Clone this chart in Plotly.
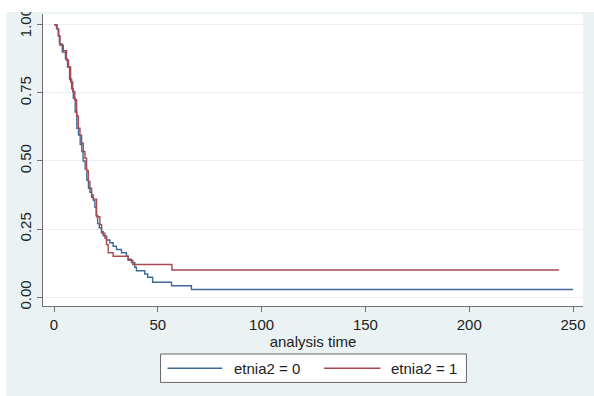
import plotly.graph_objects as go

# Kaplan-Meier survival estimates by group (step functions)
series_names = ["etnia2 = 0", "etnia2 = 1"]

time_g0 = [0, 1.2, 2.0, 2.6, 4.0, 5.5, 6.5, 7.5, 8.5, 9.3, 10.2, 11.0, 11.8, 12.6,
           13.4, 14.0, 15.0, 15.8, 16.6, 17.3, 18.1, 19.0, 19.7, 20.3, 21.0, 21.8,
           22.9, 23.7, 25.3, 26.9, 28.5, 30.1, 32.5, 34.9, 35.7, 37.3, 38.9, 39.7,
           43.7, 45.1, 47.5, 56.6, 66.2, 250]
surv_g0 = [1.0, 0.985, 0.96, 0.93, 0.90, 0.875, 0.845, 0.80, 0.765, 0.73, 0.68, 0.62,
           0.595, 0.56, 0.535, 0.50, 0.47, 0.43, 0.40, 0.385, 0.367, 0.355, 0.33,
           0.30, 0.27, 0.255, 0.24, 0.225, 0.21, 0.20, 0.187, 0.175, 0.163, 0.15,
           0.139, 0.127, 0.11, 0.097, 0.085, 0.073, 0.055, 0.042, 0.028, 0.028]

time_g1 = [0, 1.5, 2.3, 2.9, 4.5, 6.0, 7.0, 8.0, 9.0, 10.0, 10.9, 11.7, 12.5, 13.3,
           14.1, 14.9, 15.7, 16.5, 17.3, 18.1, 18.9, 20.5, 22.1, 22.9, 24.5, 25.3,
           26.1, 28.5, 35.7, 38.0, 56.8, 243.3]
surv_g1 = [1.0, 0.985, 0.96, 0.925, 0.905, 0.87, 0.845, 0.79, 0.755, 0.725, 0.665,
           0.62, 0.595, 0.565, 0.535, 0.51, 0.465, 0.425, 0.40, 0.375, 0.36, 0.295,
           0.266, 0.235, 0.217, 0.193, 0.163, 0.15, 0.135, 0.12, 0.10, 0.10]

x_ticks = [0, 50, 100, 150, 200, 250]
y_ticks = [0.0, 0.25, 0.5, 0.75, 1.0]
y_tick_text = ["0.00", "0.25", "0.50", "0.75", "1.00"]

colors = ["#3f6a98", "#ab4852"]
bg = "#eaf2f3"
axis_col = "#707070"
font = "Liberation Sans, Arial, sans-serif"

fig = go.Figure()
for t, s, name, c in [(time_g0, surv_g0, series_names[0], colors[0]),
                      (time_g1, surv_g1, series_names[1], colors[1])]:
    fig.add_trace(go.Scatter(x=t, y=s, mode="lines", name=name,
                             line=dict(color=c, width=1.4, shape="hv"),
                             showlegend=False))

fig.update_layout(
    width=594, height=396,
    margin=dict(l=43, r=9, t=8, b=90),
    paper_bgcolor=bg, plot_bgcolor="white",
    font=dict(family=font, size=15, color="#222"),
    xaxis=dict(range=[-5.3, 254.8], tickvals=x_ticks, showgrid=False,
               zeroline=False, showline=True, linecolor=axis_col, linewidth=1,
               ticks="outside", ticklen=5, tickcolor=axis_col,
               tickfont=dict(size=15),
               title=dict(text="analysis time", font=dict(size=15), standoff=4)),
    yaxis=dict(range=[-0.0324, 1.0396], tickvals=y_ticks, ticktext=y_tick_text,
               tickangle=-90, showgrid=True, gridcolor="#e9f1f2", gridwidth=1,
               zeroline=False, showline=True, linecolor=axis_col, linewidth=1,
               ticks="outside", ticklen=5, tickcolor=axis_col,
               tickfont=dict(size=15)),
)

# thin white border at top and left of the graph region
fig.add_shape(type="rect", xref="paper", yref="paper", x0=-0.1, x1=1.1,
              y0=1.0067, y1=1.05, fillcolor="white", line_width=0, layer="above")
fig.add_shape(type="rect", xref="paper", yref="paper", x0=-0.1, x1=-0.0683,
              y0=-0.4, y1=1.1, fillcolor="white", line_width=0, layer="above")

# legend box with line keys
fig.add_shape(type="rect", xref="paper", yref="paper", x0=0.2177, x1=0.7841,
              y0=-0.2617, y1=-0.1644, fillcolor="white",
              line=dict(color="#666", width=1))
key_x = [(0.2306, 0.3321, 0.3506), (0.5203, 0.6249, 0.6402)]
for (x0, x1, xt), name, c in zip(key_x, series_names, colors):
    fig.add_shape(type="line", xref="paper", yref="paper", x0=x0, x1=x1,
                  y0=-0.2131, y1=-0.2131, line=dict(color=c, width=1.4))
    fig.add_annotation(x=xt, y=-0.2131, xref="paper", yref="paper", text=name,
                       showarrow=False, xanchor="left", yanchor="middle",
                       font=dict(size=15, color="#222"))

fig.write_html("out.html")
